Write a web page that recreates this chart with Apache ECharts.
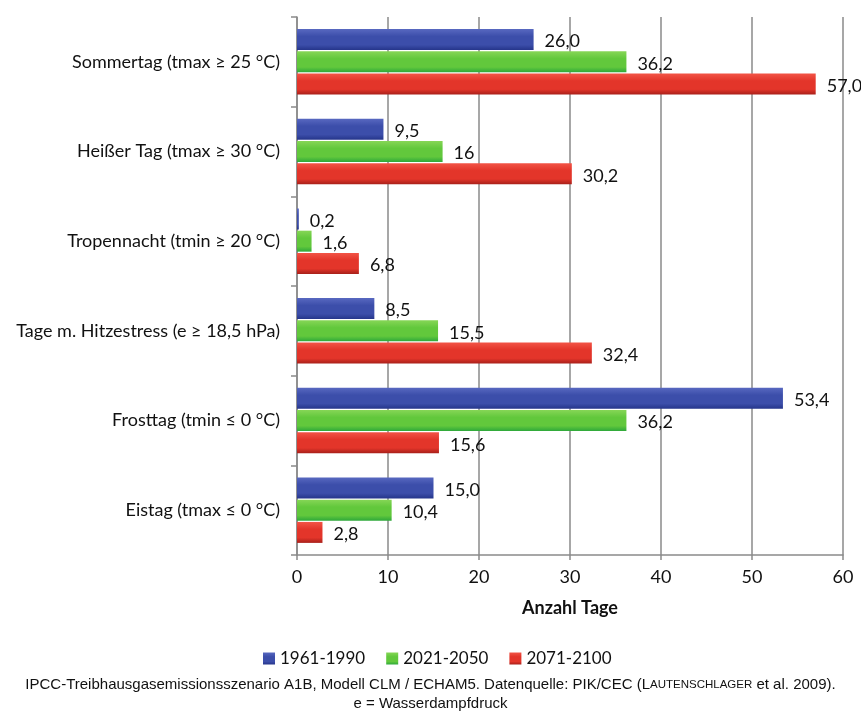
<!DOCTYPE html>
<html><head><meta charset="utf-8">
<script src="https://cdn.jsdelivr.net/npm/echarts@6/dist/echarts.min.js"></script>
<style>html,body{margin:0;padding:0;background:#fff}#c{width:861px;height:711px}</style>
</head><body><div id="c"></div>
<script>
const categories = ['Sommertag (tmax ≥ 25 °C)', 'Heißer Tag (tmax ≥ 30 °C)', 'Tropennacht (tmin ≥ 20 °C)', 'Tage m. Hitzestress (e ≥ 18,5 hPa)', 'Frosttag (tmin ≤ 0 °C)', 'Eistag (tmax ≤ 0 °C)'];
const seriesNames = ['1961-1990', '2021-2050', '2071-2100'];
const v1961 = [26.0, 9.5, 0.2, 8.5, 53.4, 15.0];
const v2021 = [36.2, 16, 1.6, 15.5, 36.2, 10.4];
const v2071 = [57.0, 30.2, 6.8, 32.4, 15.6, 2.8];
const l1961 = ['26,0', '9,5', '0,2', '8,5', '53,4', '15,0'];
const l2021 = ['36,2', '16', '1,6', '15,5', '36,2', '10,4'];
const l2071 = ['57,0', '30,2', '6,8', '32,4', '15,6', '2,8'];
const xTicks = [0, 10, 20, 30, 40, 50, 60];

const grad = (a, b, c) => ({type:'linear', x:0, y:0, x2:0, y2:1, colorStops:[{offset:0,color:a},{offset:0.35,color:b},{offset:0.75,color:b},{offset:1,color:c}]});
const colors = [grad('#5868c0', '#3c4eaa', '#25358a'), grad('#86d656', '#62c83c', '#2ea83a'), grad('#f25446', '#e3352a', '#a8201a')];
const vals = [v1961, v2021, v2071];
const labs = [l1961, l2021, l2071];
const font = 'Lato, "Noto Sans", sans-serif';

const chart = echarts.init(document.getElementById('c'), null, {renderer:'canvas'});
chart.setOption({
  animation: false,
  grid: {left: 297, right: 18, top: 17, bottom: 156, containLabel: false},
  legend: {
    left: 258, top: 645, itemWidth: 12, itemHeight: 12, itemGap: 21,
    icon: 'rect',
    textStyle: {fontFamily: font, fontSize: 17, color: '#111'},
    data: seriesNames
  },
  xAxis: {
    type: 'value', min: xTicks[0], max: xTicks[xTicks.length-1], interval: 10,
    name: 'Anzahl Tage', nameLocation: 'middle', nameGap: 44,
    nameTextStyle: {fontFamily: font, fontSize: 18, fontWeight: 'bold', color: '#111'},
    axisLine: {show: true, lineStyle: {color: '#8a8a8a', width: 1.5}},
    axisTick: {show: true, length: 5, lineStyle: {color: '#8a8a8a', width: 1.5}},
    axisLabel: {fontFamily: font, fontSize: 18, color: '#111', margin: 13},
    splitLine: {show: true, lineStyle: {color: '#8a8a8a', width: 1.5}}
  },
  yAxis: {
    type: 'category', data: categories, inverse: true,
    axisLine: {show: true, lineStyle: {color: '#8a8a8a', width: 1.5}},
    axisTick: {show: true, length: 6, lineStyle: {color: '#8a8a8a', width: 1.5}},
    axisLabel: {fontFamily: font, fontSize: 18, color: '#111', margin: 17}
  },
  series: seriesNames.map((n, i) => ({
    name: n, type: 'bar', data: vals[i],
    barGap: '6%', barCategoryGap: '27%',
    itemStyle: {color: colors[i]},
    label: {
      show: true, position: 'right', distance: 11, offset: [0, 2],
      fontFamily: font, fontSize: 18, color: '#111',
      formatter: p => labs[i][p.dataIndex]
    }
  })),
  graphic: [
    {type:'text', left: 'center', top: 677, style: {
      text: 'IPCC-Treibhausgasemissionsszenario A1B, Modell CLM / ECHAM5. Datenquelle: PIK/CEC ({a|L}{b|AUTENSCHLAGER} et al. 2009).',
      font: '15px "Liberation Sans", Arial, sans-serif', fill: '#111',
      rich: {a: {fontSize: 15, fontFamily: 'Liberation Sans', fill:'#111'}, b: {fontSize: 11.5, fontFamily: 'Liberation Sans', fill:'#111'}}
    }},
    {type:'text', left: 'center', top: 696, style: {
      text: 'e = Wasserdampfdruck', font: '15px "Liberation Sans", Arial, sans-serif', fill: '#111'
    }}
  ]
});
</script></body></html>
